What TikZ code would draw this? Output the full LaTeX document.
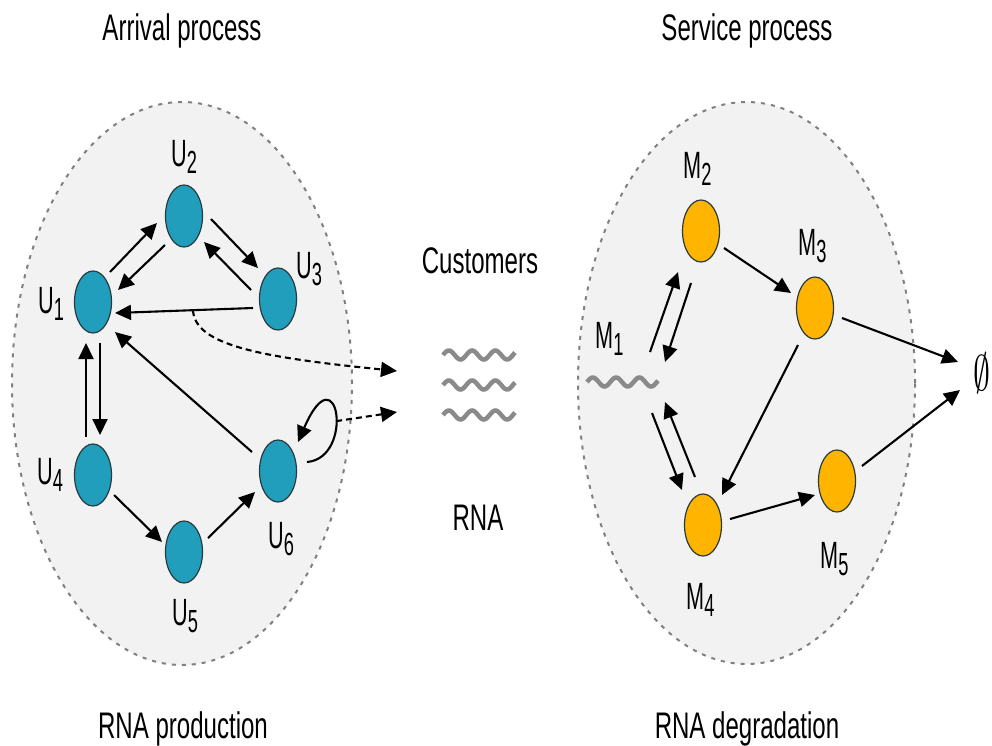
\documentclass[tikz,border=0pt]{standalone}
\usepackage{fontspec}
\setmainfont{Liberation Sans}[FakeStretch=0.65]
\newfontfamily\labfont{Liberation Sans}[FakeStretch=0.57]
\usepackage{graphicx}
\usetikzlibrary{shapes.geometric,arrows.meta,calc}

\definecolor{zonefill}{HTML}{F2F2F2}
\definecolor{zoneline}{HTML}{808080}
\definecolor{ucol}{HTML}{209EBB}
\definecolor{mcol}{HTML}{FFB400}
\definecolor{nodeline}{HTML}{2A3B40}
\definecolor{wavecol}{HTML}{8A8A8A}

% state label with a lowered index
\newcommand\statelab[2]{#1\raisebox{-7pt}{\fontsize{32}{33}\selectfont #2}}

\tikzset{
  zone/.style={ellipse, draw=zoneline, fill=zonefill, line width=2pt,
    dash pattern=on 4pt off 6pt, inner sep=0pt},
  unode/.style={ellipse, draw=nodeline, fill=ucol, line width=1.2pt,
    minimum width=37pt, minimum height=62pt, inner sep=0pt},
  mnode/.style={unode, fill=mcol},
  arr/.style={line width=2.1pt, -{Triangle[length=16pt,width=15pt]}},
  darr/.style={arr, dash pattern=on 6pt off 4pt},
  wave/.style={draw=wavecol, line width=4.5pt},
  lbl/.style={inner sep=0pt, anchor=base west, font=\labfont\fontsize{38}{40}\selectfont},
  title/.style={inner sep=0pt, anchor=base, font=\fontsize{37}{40}\selectfont},
}

\begin{document}
\begin{tikzpicture}[x=1pt,y=-1pt]
\useasboundingbox (0,0) rectangle (992,745);
\fill[white] (0,0) rectangle (992,745);

% the two process regions
\node[zone, minimum width=340pt, minimum height=563pt] (arrival) at (182,383.5) {};
\node[zone, minimum width=337pt, minimum height=562pt] (service) at (746.5,383) {};

% headings
\node[title] (t1) at (182,40) {Arrival process};
\node[title] (t2) at (747,40) {Service process};
\node[title] (t3) at (183,738) {RNA production};
\node[title] (t4) at (747,738) {RNA degradation};
\node[title] (cust) at (480,273) {Customers};
\node[title] (rnalab) at (478,530) {RNA};

% production states
\node[unode] (u1) at (93,302) {};
\node[unode] (u2) at (184,216) {};
\node[unode] (u3) at (278,299) {};
\node[unode] (u4) at (93,475) {};
\node[unode] (u5) at (184,552) {};
\node[unode] (u6) at (278,471) {};

\node[lbl] (lu1) at (38,313) {\statelab{U}{1}};
\node[lbl] (lu2) at (171,166) {\statelab{U}{2}};
\node[lbl] (lu3) at (296,278) {\statelab{U}{3}};
\node[lbl] (lu4) at (37,484) {\statelab{U}{4}};
\node[lbl] (lu5) at (172,625) {\statelab{U}{5}};
\node[lbl] (lu6) at (268,548) {\statelab{U}{6}};

% degradation states
\node[mnode] (m2) at (701,231) {};
\node[mnode] (m3) at (815,308) {};
\node[mnode] (m4) at (703,525) {};
\node[mnode] (m5) at (837,481) {};
\node[inner sep=0pt, minimum width=72pt, minimum height=12pt] (m1) at (622,382) {};
\draw[wave] plot[domain=0:71, samples=70, smooth] ({587+\x},{382-4.5*sin(\x*15.45)});

\node[lbl] (lm1) at (595,348) {\statelab{M}{1}};
\node[lbl] (lm2) at (683,178) {\statelab{M}{2}};
\node[lbl] (lm3) at (798,255) {\statelab{M}{3}};
\node[lbl] (lm4) at (686,609) {\statelab{M}{4}};
\node[lbl] (lm5) at (820,568) {\statelab{M}{5}};

\node[inner sep=0pt] (sink) at (982,373) {\scalebox{3.4}[5]{$\emptyset$}};

% RNA molecules (customers)
\node[inner sep=0pt, minimum width=76pt, minimum height=72pt] (waves) at (479,385) {};
\foreach \yy in {355,385,415}
  \draw[wave] plot[domain=0:72, samples=70, smooth] ({443+\x},{\yy-4.5*sin(\x*15.45)});

% production transitions
\draw[arr] ($(u1)+(17,-30)$) -- ($(u2)+(-27,7)$);
\draw[arr] ($(u2)+(-19,29)$) -- ($(u1)+(25,-12)$);
\draw[arr] ($(u2)+(27,3)$) -- ($(u3)+(-20,-31)$);
\draw[arr] ($(u3)+(-27,-9)$) -- ($(u2)+(20,26)$);
\draw[arr] ($(u3)+(-25,9)$) -- ($(u1)+(22,11)$) coordinate[pos=0.435] (tap);
\draw[arr] ($(u6)+(-26,-19)$) -- ($(u1)+(22,30)$);
\draw[arr] ($(u1)+(7,41)$) -- ($(u4)+(7,-40)$);
\draw[arr] ($(u4)+(-7,-38)$) -- ($(u1)+(-7,41)$);
\draw[arr] ($(u4)+(21,20)$) -- ($(u5)+(-22,-10)$);
\draw[arr] ($(u5)+(24,-14)$) -- ($(u6)+(-23,21)$);
\draw[arr] ($(u6)+(29,-9)$) .. controls ($(u6)+(77,-13)$) and ($(u6)+(60,-121)$) .. ($(u6)+(20,-29)$) coordinate[pos=0.45] (loopout);

% release of RNA
\draw[darr] (tap) .. controls ($(tap)+(2,35)$) and ($(tap)+(67,47)$) .. ($(waves)+(-82,-14)$);
\draw[darr] (loopout) -- ($(waves)+(-82,27)$);

% degradation transitions
\draw[arr] ($(m1)+(28,-30)$) -- ($(m2)+(-23,41)$);
\draw[arr] ($(m2)+(-10,52)$) -- ($(m1)+(43,-20)$);
\draw[arr] ($(m4)+(-8,-48)$) -- ($(m1)+(43,20)$);
\draw[arr] ($(m1)+(30,31)$) -- ($(m4)+(-21,-35)$);
\draw[arr] ($(m2)+(23,17)$) -- ($(m3)+(-24,-15)$);
\draw[arr] ($(m3)+(-17,37)$) -- ($(m4)+(19,-30)$);
\draw[arr] ($(m4)+(27,-6)$) -- ($(m5)+(-22,14)$);
\draw[arr] ($(m3)+(27,10)$) -- ($(sink)+(-24,-11)$);
\draw[arr] ($(m5)+(25,-15)$) -- ($(sink)+(-22,17)$);
\end{tikzpicture}
\end{document}
